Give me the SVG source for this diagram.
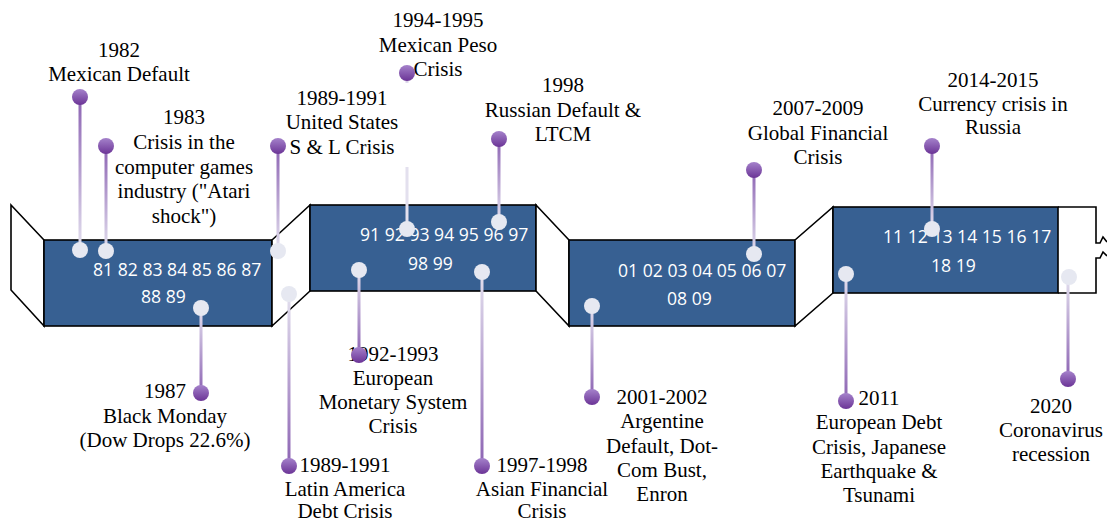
<svg xmlns="http://www.w3.org/2000/svg" width="1107" height="523" viewBox="0 0 1107 523">
<style>
.panel{fill:#376092;stroke:#000;stroke-width:1.6}
.flap{fill:#fff;stroke:#000;stroke-width:1.6;stroke-linejoin:miter}
.edge{fill:none;stroke:#000;stroke-width:1.6}
.num{font-family:"Open Sans","Liberation Sans",sans-serif;font-size:17.6px;fill:#fff}
.lbl{font-family:"Liberation Serif","Times New Roman",serif;font-size:21px;fill:#000;text-anchor:middle}
.wc{fill:#E6E8F1}
.pc{fill:url(#gPin)}
.st{fill:url(#gTop)}
.sb{fill:url(#gBot)}
</style>
<defs>
<linearGradient id="gPin" x1="0" y1="0" x2="0" y2="1">
<stop offset="0" stop-color="#A582CB"/>
<stop offset="1" stop-color="#6B3496"/>
</linearGradient>
<linearGradient id="gTop" x1="0" y1="0" x2="0" y2="1">
<stop offset="0" stop-color="#8C63B3"/>
<stop offset="1" stop-color="#E3E0EE"/>
</linearGradient>
<linearGradient id="gBot" x1="0" y1="0" x2="0" y2="1">
<stop offset="0" stop-color="#E3E0EE"/>
<stop offset="1" stop-color="#8C63B3"/>
</linearGradient>
</defs>
<rect width="1107" height="523" fill="#fff"/>
<g id="timeline">
<polygon class="flap" points="11,205 44,240 44,326 11,290"/>
<rect class="panel" x="44" y="240" width="228" height="86"/>
<polygon class="flap" points="272,240 310,205 310,291 272,326"/>
<rect class="panel" x="310" y="205" width="226" height="86"/>
<polygon class="flap" points="536,205 569,240 569,326 536,291"/>
<rect class="panel" x="569" y="240" width="226" height="86"/>
<polygon class="flap" points="795,240 833,207 833,293 795,326"/>
<rect class="panel" x="833" y="207" width="225" height="86"/>
<path class="edge" d="M1058,207 H1096 V243 H1100 L1103,237 L1107,242 M1107,256 L1103,252 L1100,258 H1096 V293 H1058"/>
<text class="num" x="93" y="276">81 82 83 84 85 86 87</text>
<text class="num" x="141" y="303">88 89</text>
<text class="num" x="360" y="241">91 92 93 94 95 96 97</text>
<text class="num" x="408" y="270">98 99</text>
<text class="num" x="618" y="277">01 02 03 04 05 06 07</text>
<text class="num" x="667" y="305">08 09</text>
<text class="num" x="883" y="243">11 12 13 14 15 16 17</text>
<text class="num" x="931" y="272">18 19</text>
</g>
<g id="connectors">
<rect class="st" x="78.5" y="97" width="3" height="153"/>
<rect class="st" x="104.5" y="146" width="3" height="105"/>
<rect class="st" x="276.5" y="146" width="3" height="105"/>
<rect class="st" x="405.5" y="73" width="3" height="10"/>
<rect x="405.5" y="167" width="3" height="62" fill="#E3E0EE"/>
<rect class="st" x="497.5" y="139" width="3" height="83"/>
<rect class="st" x="752.5" y="170" width="3" height="84"/>
<rect class="st" x="930.5" y="146" width="3" height="83"/>
<rect class="sb" x="199.5" y="308" width="3" height="85"/>
<rect class="sb" x="287.5" y="294" width="3" height="172"/>
<rect class="sb" x="357.5" y="270" width="3" height="85"/>
<rect class="sb" x="480.5" y="272" width="3" height="194"/>
<rect class="sb" x="590.5" y="306" width="3" height="91"/>
<rect class="sb" x="844.5" y="274" width="3" height="127"/>
<rect class="sb" x="1066.5" y="277" width="3" height="102"/>
</g>
<g id="e1982">
<text class="lbl" x="119" y="57">1982</text>
<text class="lbl" x="119" y="81">Mexican Default</text>
<circle class="wc" cx="80" cy="250" r="8"/>
<circle class="pc" cx="80" cy="97" r="8"/>
</g>
<g id="e1983">
<text class="lbl" x="184" y="124">1983</text>
<text class="lbl" x="184" y="149">Crisis in the</text>
<text class="lbl" x="184" y="173.5">computer games</text>
<text class="lbl" x="184" y="198">industry (&quot;Atari</text>
<text class="lbl" x="184" y="222.5">shock&quot;)</text>
<circle class="wc" cx="106" cy="251" r="8"/>
<circle class="pc" cx="106" cy="146" r="8"/>
</g>
<g id="e1989us">
<text class="lbl" x="342" y="105">1989-1991</text>
<text class="lbl" x="342" y="129">United States</text>
<text class="lbl" x="342" y="153.5">S &amp; L Crisis</text>
<circle class="wc" cx="278" cy="251" r="8"/>
<circle class="pc" cx="278" cy="146" r="8"/>
</g>
<g id="e1994">
<text class="lbl" x="438" y="27">1994-1995</text>
<text class="lbl" x="438" y="51.5">Mexican Peso</text>
<text class="lbl" x="438" y="76">Crisis</text>
<circle class="wc" cx="407" cy="229" r="8"/>
<circle class="pc" cx="407" cy="73" r="8"/>
</g>
<g id="e1998">
<text class="lbl" x="563" y="92">1998</text>
<text class="lbl" x="563" y="117">Russian Default &amp;</text>
<text class="lbl" x="563" y="141">LTCM</text>
<circle class="wc" cx="499" cy="222" r="8"/>
<circle class="pc" cx="499" cy="139" r="8"/>
</g>
<g id="e2007">
<text class="lbl" x="818" y="115">2007-2009</text>
<text class="lbl" x="818" y="140">Global Financial</text>
<text class="lbl" x="818" y="164">Crisis</text>
<circle class="wc" cx="754" cy="254" r="8"/>
<circle class="pc" cx="754" cy="170" r="8"/>
</g>
<g id="e2014">
<text class="lbl" x="993" y="87">2014-2015</text>
<text class="lbl" x="993" y="110.5">Currency crisis in</text>
<text class="lbl" x="993" y="134">Russia</text>
<circle class="wc" cx="932" cy="229" r="8"/>
<circle class="pc" cx="932" cy="146" r="8"/>
</g>
<g id="e1987">
<text class="lbl" x="165" y="398">1987</text>
<text class="lbl" x="165" y="423">Black Monday</text>
<text class="lbl" x="165" y="447">(Dow Drops 22.6%)</text>
<circle class="wc" cx="201" cy="308" r="8"/>
<circle class="pc" cx="201" cy="393" r="8"/>
</g>
<g id="e1989la">
<text class="lbl" x="345" y="472">1989-1991</text>
<text class="lbl" x="345" y="495.5">Latin America</text>
<text class="lbl" x="345" y="518">Debt Crisis</text>
<circle class="wc" cx="289" cy="294" r="8"/>
<circle class="pc" cx="289" cy="466" r="8"/>
</g>
<g id="e1992">
<text class="lbl" x="393" y="361">1992-1993</text>
<text class="lbl" x="393" y="385">European</text>
<text class="lbl" x="393" y="409">Monetary System</text>
<text class="lbl" x="393" y="433">Crisis</text>
<circle class="wc" cx="359" cy="270" r="8"/>
<circle class="pc" cx="359" cy="355" r="8"/>
</g>
<g id="e1997">
<text class="lbl" x="542" y="472">1997-1998</text>
<text class="lbl" x="542" y="495.5">Asian Financial</text>
<text class="lbl" x="542" y="518">Crisis</text>
<circle class="wc" cx="482" cy="272" r="8"/>
<circle class="pc" cx="482" cy="466" r="8"/>
</g>
<g id="e2001">
<text class="lbl" x="662" y="404">2001-2002</text>
<text class="lbl" x="662" y="428">Argentine</text>
<text class="lbl" x="662" y="452.5">Default, Dot-</text>
<text class="lbl" x="662" y="477">Com Bust,</text>
<text class="lbl" x="662" y="501">Enron</text>
<circle class="wc" cx="592" cy="306" r="8"/>
<circle class="pc" cx="592" cy="397" r="8"/>
</g>
<g id="e2011">
<text class="lbl" x="879" y="405">2011</text>
<text class="lbl" x="879" y="429">European Debt</text>
<text class="lbl" x="879" y="453.5">Crisis, Japanese</text>
<text class="lbl" x="879" y="478">Earthquake &amp;</text>
<text class="lbl" x="879" y="502">Tsunami</text>
<circle class="wc" cx="846" cy="274" r="8"/>
<circle class="pc" cx="846" cy="401" r="8"/>
</g>
<g id="e2020">
<text class="lbl" x="1051" y="413">2020</text>
<text class="lbl" x="1051" y="437">Coronavirus</text>
<text class="lbl" x="1051" y="461">recession</text>
<circle class="wc" cx="1069" cy="277" r="8"/>
<circle class="pc" cx="1068" cy="379" r="8"/>
</g>
</svg>
